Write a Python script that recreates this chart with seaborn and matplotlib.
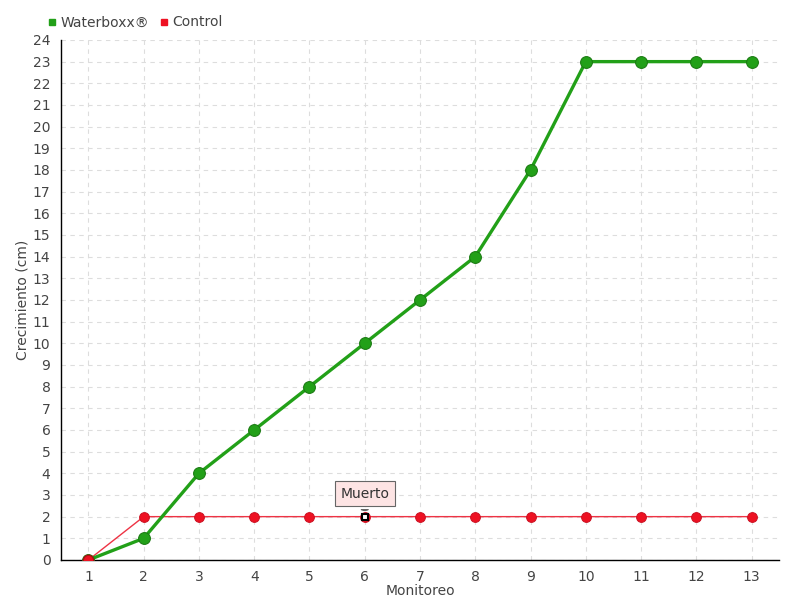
import matplotlib
matplotlib.use("Agg")
import matplotlib.pyplot as plt
from matplotlib.lines import Line2D
import seaborn as sns
import pandas as pd

# datos
monitoreo = list(range(1, 14))
waterboxx = [0, 1, 4, 6, 8, 10, 12, 14, 18, 23, 23, 23, 23]
control = [0, 2, 2, 2, 2, 2, 2, 2, 2, 2, 2, 2, 2]

df = pd.DataFrame({"Monitoreo": monitoreo, "Waterboxx®": waterboxx, "Control": control})

sns.set_style("white")
plt.rcParams['font.family'] = ['DejaVu Sans']

fig = plt.figure(figsize=(8, 6), dpi=100)
ax = fig.add_axes([0.076, 0.0667, 0.898, 0.8667])

ax.grid(True, color="#dddddd", linestyle=(0, (4, 4)), linewidth=0.8)
ax.set_axisbelow(True)

sns.lineplot(data=df, x="Monitoreo", y="Control", ax=ax, color="#ee3344",
             linewidth=1, marker="o", markersize=7, markerfacecolor="#ee1122",
             markeredgecolor="#cc1122", zorder=3)
sns.lineplot(data=df, x="Monitoreo", y="Waterboxx®", ax=ax, color="#22a018",
             linewidth=2.4, marker="o", markersize=8.5, markerfacecolor="#22a018",
             markeredgecolor="#1a7a12", zorder=4)
# punto control al inicio encima
ax.plot(1, control[0], "o", color="#ee1122", markeredgecolor="#aa1111", markersize=7.5, zorder=5)

# punto "Muerto"
ax.plot(6, control[5], "s", color="white", markeredgecolor="black", markersize=5,
        markeredgewidth=1.5, zorder=6)
ax.annotate("Muerto", xy=(6, 2.15), xytext=(6, 3.05), ha="center", va="center",
            fontsize=10, color="#333333",
            bbox=dict(boxstyle="square,pad=0.4", fc="#fde4e4", ec="#666666", lw=0.8),
            arrowprops=dict(arrowstyle="wedge,tail_width=0.5", fc="#fde4e4",
                            ec="#666666", lw=0.8))

ax.set_xlim(0.5, 13.5)
ax.set_ylim(0, 24)
ax.set_xticks(monitoreo)
ax.set_yticks(range(0, 25))
ax.tick_params(axis="both", labelsize=10, labelcolor="#444444", color="black",
               length=4, direction="out")
for s in ["top", "right"]:
    ax.spines[s].set_visible(False)
for s in ["left", "bottom"]:
    ax.spines[s].set_color("black")
    ax.spines[s].set_linewidth(1)

ax.set_xlabel("Monitoreo", fontsize=10, color="#444444", labelpad=0)
ax.set_ylabel("Crecimiento (cm)", fontsize=10, color="#444444", labelpad=2)

# leyenda
handles = [Line2D([], [], marker="s", color="#22a018", linestyle="none", markersize=5),
           Line2D([], [], marker="s", color="#ee1122", linestyle="none", markersize=5)]
leg = fig.legend(handles, ["Waterboxx®", "Control"], loc="upper left",
                 bbox_to_anchor=(0.044, 0.995), ncol=2, frameon=False, fontsize=10,
                 handlelength=0.6, handletextpad=0.3, columnspacing=0.8)
for t in leg.get_texts():
    t.set_color("#444444")

fig.savefig("out.png", dpi=100)
